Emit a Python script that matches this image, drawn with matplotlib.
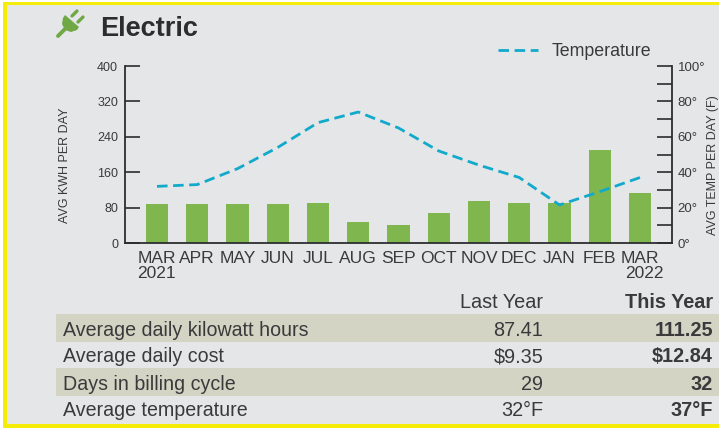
import matplotlib
matplotlib.use('Agg')
import matplotlib.pyplot as plt
from matplotlib.patches import Rectangle, Polygon
import numpy as np

plt.rcParams['font.family'] = ['Liberation Sans', 'DejaVu Sans']

months = ['MAR', 'APR', 'MAY', 'JUN', 'JUL', 'AUG', 'SEP', 'OCT', 'NOV', 'DEC', 'JAN', 'FEB', 'MAR']
kwh = [88, 88, 88, 88, 90.5, 47, 41, 68, 95, 90, 90, 211, 113]
temp = [32, 33, 42, 54, 68, 74, 65, 52, 44, 37, 21.5, 29, 37]
kwh_ticks = [0, 80, 160, 240, 320, 400]
temp_ticks = [0, 10, 20, 30, 40, 50, 60, 70, 80, 90, 100]
temp_labels = ['0°', '', '20°', '', '40°', '', '60°', '', '80°', '', '100°']

row_names = ['Average daily kilowatt hours', 'Average daily cost', 'Days in billing cycle', 'Average temperature']
last_year = ['87.41', '$9.35', '29', '32°F']
this_year = ['111.25', '$12.84', '32', '37°F']

BG = '#e4e6e8'
DARK = '#3a3a3c'
YELLOW = '#f6ec0a'
W, H = 719, 428

fig = plt.figure(figsize=(W / 100, H / 100), dpi=100, facecolor='white')

# page layer in pixel coords, y goes down
page = fig.add_axes([0, 0, 1, 1])
page.set_xlim(0, W)
page.set_ylim(H, 0)
page.axis('off')
page.add_patch(Rectangle((3, 2), W, 424, fc=BG, ec='none'))
page.add_patch(Rectangle((3, 2), 4, 424, fc=YELLOW, ec='none'))
page.add_patch(Rectangle((3, 2), W, 3, fc=YELLOW, ec='none'))
page.add_patch(Rectangle((3, 424), W, 4, fc=YELLOW, ec='none'))

# plug icon
green = '#6fa845'
page.add_patch(Polygon([(65, 15), (79, 27), (77, 30), (71, 32), (65, 30), (62, 24), (63, 18)], fc=green, ec='none'))
page.plot([58, 65], [36, 29], color=green, lw=2.8, solid_capstyle='round')
page.plot([72, 77], [16, 11], color=green, lw=2.4, solid_capstyle='round')
page.plot([78, 83], [22, 17], color=green, lw=2.4, solid_capstyle='round')
page.text(100, 29, 'Electric', fontsize=19.5, fontweight='bold', color='#2d2d2f', va='center', ha='left')

# table
for top in [314, 368]:
    page.add_patch(Rectangle((55.5, top), W, 28, fc='#d3d4c3', ec='none'))
page.text(543, 303, 'Last Year', fontsize=14.3, color=DARK, ha='right', va='center')
page.text(713, 303, 'This Year', fontsize=14.3, fontweight='bold', color=DARK, ha='right', va='center')
for i in range(len(row_names)):
    y = 330 + i * 27
    page.text(63, y, row_names[i], fontsize=14.1, color=DARK, ha='left', va='center')
    page.text(543, y, last_year[i], fontsize=14.3, color=DARK, ha='right', va='center')
    page.text(713, y, this_year[i], fontsize=14.3, fontweight='bold', color=DARK, ha='right', va='center')

# axis titles and the year labels
page.text(65.5, 165, 'AVG KWH PER DAY', fontsize=9, color=DARK, rotation=90, ha='center', va='center')
page.text(713, 165, 'AVG TEMP PER DAY (F)', fontsize=9, color=DARK, rotation=90, ha='center', va='center')
page.text(156, 274, '2021', fontsize=12.5, color=DARK, ha='center', va='center')
page.text(644, 274, '2022', fontsize=12.5, color=DARK, ha='center', va='center')

# chart axes, 125..672 x 66..243 in px
ax = fig.add_axes([125 / W, 1 - 243 / H, (672 - 125) / W, 177 / H])
ax.patch.set_alpha(0)
x = np.arange(len(months))
ax.bar(x, kwh, width=0.55, color='#7fb64e', zorder=2)
ax.set_xlim(-0.795, 12.795)
ax.set_ylim(0, 400)
ax.set_yticks(kwh_ticks)
ax.set_xticks(x)
ax.set_xticklabels(months, fontsize=12.5, color=DARK)
ax.tick_params(axis='x', length=0, pad=6)
ax.tick_params(axis='y', direction='in', length=11, width=1.2, color='#2d2d2f', labelsize=9, labelcolor=DARK, pad=5)
ax.spines['top'].set_visible(False)
ax.spines['right'].set_visible(False)
for s in ['left', 'bottom']:
    ax.spines[s].set_linewidth(1.3)
    ax.spines[s].set_color('#2d2d2f')

ax2 = ax.twinx()
ax2.patch.set_alpha(0)
line, = ax2.plot(x, temp, color='#12aacb', lw=2, dashes=(3.8, 2), label='Temperature', zorder=3)
ax2.set_ylim(0, 100)
ax2.set_yticks(temp_ticks)
ax2.set_yticklabels(temp_labels)
ax2.tick_params(axis='y', direction='in', length=11, width=1.2, color='#2d2d2f', labelsize=9.5, labelcolor=DARK, pad=4)
for s in ['top', 'left', 'bottom']:
    ax2.spines[s].set_visible(False)
ax2.spines['right'].set_linewidth(1.3)
ax2.spines['right'].set_color('#2d2d2f')

fig.legend(handles=[line], loc='center right', bbox_to_anchor=(651.5 / W, 1 - 51.5 / H), frameon=False,
           fontsize=12.8, labelcolor=DARK, handlelength=2.25, handletextpad=0.8, borderpad=0, borderaxespad=0)

fig.savefig('out.png', dpi=100)
